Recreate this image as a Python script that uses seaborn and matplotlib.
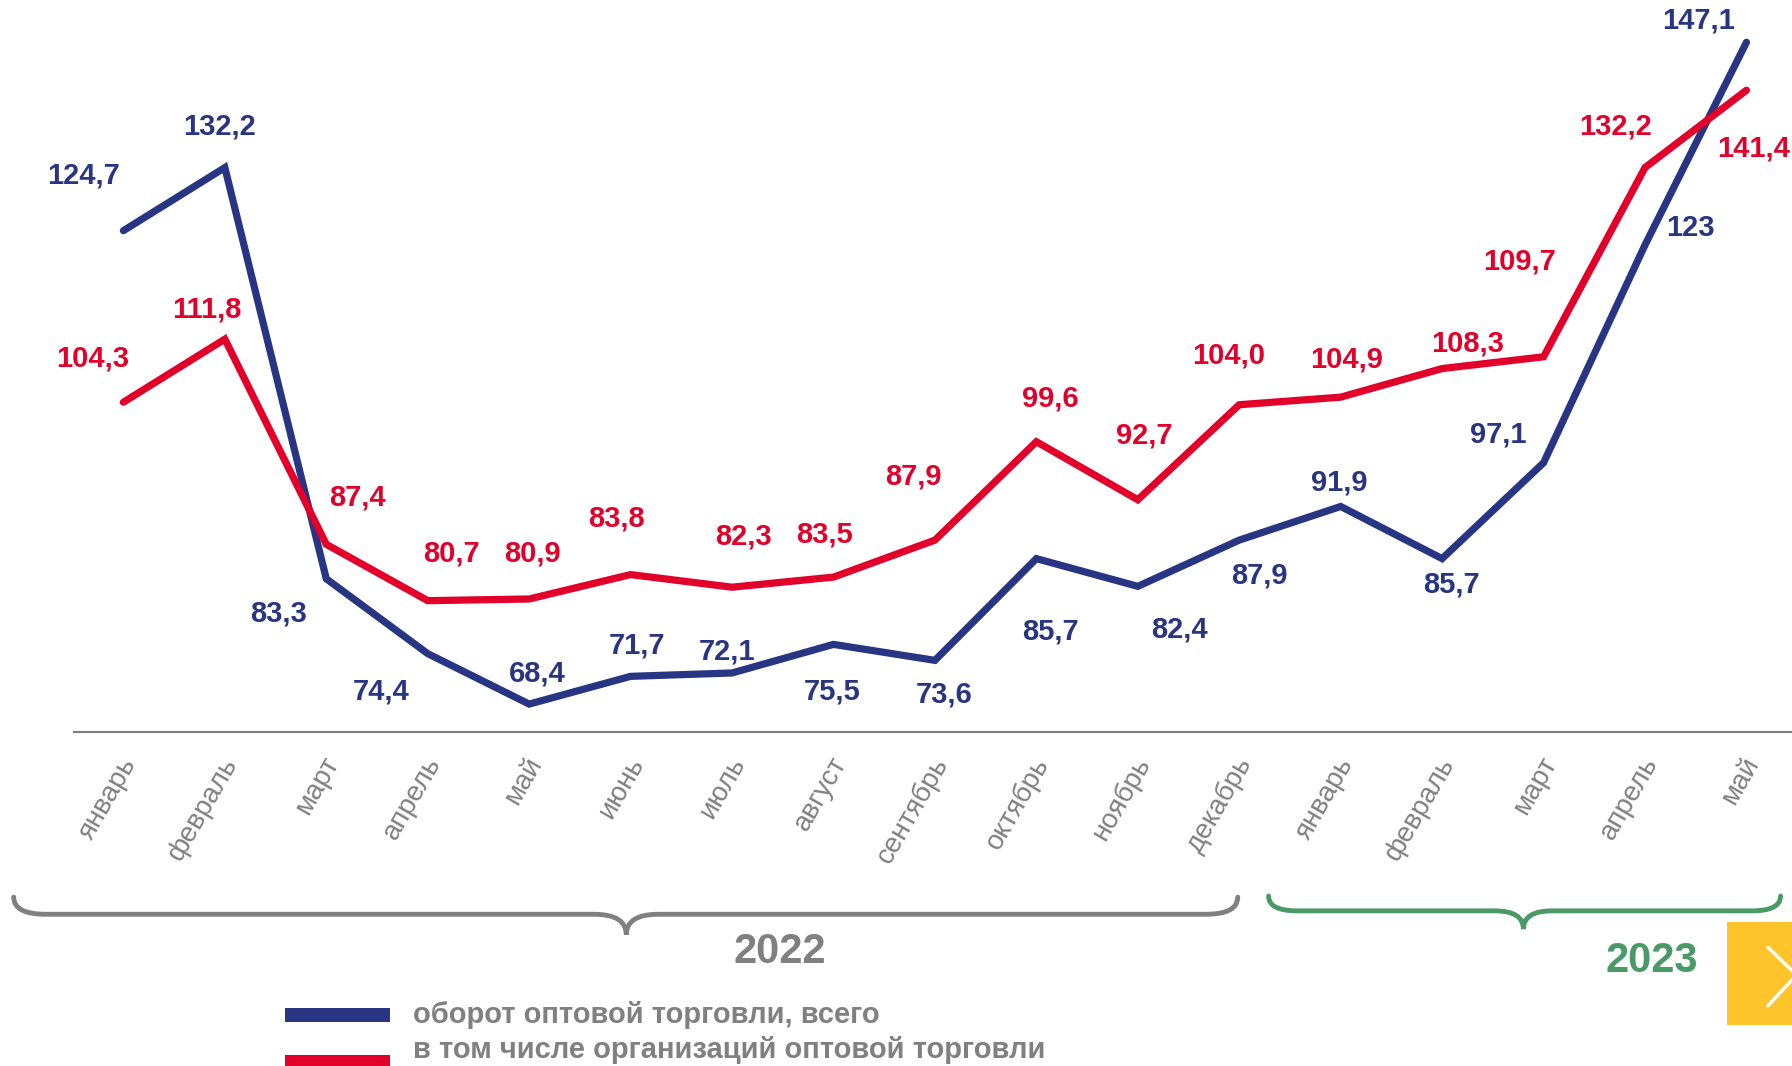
import pandas as pd
import seaborn as sns
import matplotlib.pyplot as plt
import matplotlib.transforms as mtransforms
from matplotlib.path import Path
from matplotlib.patches import PathPatch, Rectangle
from matplotlib.lines import Line2D

sns.set_style("white")
plt.rcParams['font.family'] = ['Liberation Sans', 'DejaVu Sans']

# data
months = ["январь", "февраль", "март", "апрель", "май", "июнь", "июль", "август",
          "сентябрь", "октябрь", "ноябрь", "декабрь",
          "январь", "февраль", "март", "апрель", "май"]
total = [124.7, 132.2, 83.3, 74.4, 68.4, 71.7, 72.1, 75.5, 73.6, 85.7, 82.4, 87.9,
         91.9, 85.7, 97.1, 123.0, 147.1]
orgs = [104.3, 111.8, 87.4, 80.7, 80.9, 83.8, 82.3, 83.5, 87.9, 99.6, 92.7, 104.0,
        104.9, 108.3, 109.7, 132.2, 141.4]
total_text = ["124,7", "132,2", "83,3", "74,4", "68,4", "71,7", "72,1", "75,5", "73,6",
              "85,7", "82,4", "87,9", "91,9", "85,7", "97,1", "123", "147,1"]
orgs_text = ["104,3", "111,8", "87,4", "80,7", "80,9", "83,8", "82,3", "83,5", "87,9",
             "99,6", "92,7", "104,0", "104,9", "108,3", "109,7", "132,2", "141,4"]
series_names = ["оборот оптовой торговли, всего",
                "в том числе организаций оптовой торговли"]

# label offsets in reference-screen px (dx, dy down)
total_off = [(-35, -48), (-5, -36), (-42, 30), (-41, 33), (7, -27), (6, -27), (-4, -19),
             (-1, 41), (8, 30), (12, 64), (36, 38), (18, 31), (-1, -21), (8, 23),
             (-40, -25), (40, -15), (-42, -19)]
orgs_off = [(-27, -38), (-16, -26), (27, -41), (21, -41), (3, -40), (-12, -49), (10, -44),
            (-8, -37), (-19, -56), (12, -38), (6, -56), (-9, -43), (5, -33), (22, -22),
            (-21, -83), (-26, -36), (6, 51)]

BLUE = "#283583"
RED = "#E2002B"
GRAY = "#808080"
GREEN = "#4A9A68"

W, H = 1792, 1066
S = W / 1568.0

df = pd.DataFrame({"x": range(len(months)), "total": total, "orgs": orgs})

fig = plt.figure(figsize=(W / 100, H / 100), dpi=100)
ax = fig.add_axes([0, 1 - 731.5 / H, 1, 731.5 / H])

sns.lineplot(data=df, x="x", y="total", ax=ax, color=BLUE, linewidth=5.2,
             solid_capstyle="round", solid_joinstyle="miter")
sns.lineplot(data=df, x="x", y="orgs", ax=ax, color=RED, linewidth=5.2,
             solid_capstyle="round", solid_joinstyle="miter")

for vals, texts, offs, col in [(total, total_text, total_off, BLUE),
                                (orgs, orgs_text, orgs_off, RED)]:
    for i, (v, t, (dx, dy)) in enumerate(zip(vals, texts, offs)):
        ax.annotate(t, (i, v), xytext=(dx * S, -dy * S), textcoords="offset pixels",
                    ha="center", va="center", color=col, fontsize=21,
                    fontweight="bold", annotation_clip=False)

ax.set_xlim(-1.2165, 16.449)
ax.set_ylim(65.14, 152.13)
ax.set_xlabel("")
ax.set_ylabel("")
ax.set_yticks([])
ax.set_xticks(range(len(months)))
ax.set_xticklabels(months, rotation=60, ha="right", va="center",
                   rotation_mode="anchor", color=GRAY, fontsize=20)
ax.tick_params(axis="x", length=0, pad=20)
shift = mtransforms.ScaledTranslation(5 / 72, 0, fig.dpi_scale_trans)
for lab in ax.get_xticklabels():
    lab.set_transform(lab.get_transform() + shift)
for side in ["top", "left", "right"]:
    ax.spines[side].set_visible(False)
ax.spines["bottom"].set_color(GRAY)
ax.spines["bottom"].set_linewidth(1.6)
ax.spines["bottom"].set_bounds(-0.487, 16.449)


def fxy(x, y):
    return x * S / W, 1 - y * S / H


def brace(x0, x1, xm, ytop, ybot, ytip, r, color):
    pts = [(x0, ytop), (x0, ybot), (x0 + r, ybot), (xm - r, ybot), (xm, ybot), (xm, ytip),
           (xm, ybot), (xm + r, ybot), (x1 - r, ybot), (x1, ybot), (x1, ytop)]
    codes = [Path.MOVETO, Path.CURVE3, Path.CURVE3, Path.LINETO, Path.CURVE3, Path.CURVE3,
             Path.CURVE3, Path.CURVE3, Path.LINETO, Path.CURVE3, Path.CURVE3]
    p = Path([fxy(*q) for q in pts], codes)
    fig.add_artist(PathPatch(p, fill=False, edgecolor=color, linewidth=3.5,
                             capstyle="round", transform=fig.transFigure))


brace(12, 1083, 548, 785, 800, 818, 28, GRAY)
brace(1110, 1558, 1333, 784, 797, 813, 25, GREEN)
fig.text(*fxy(682, 833), "2022", color=GRAY, fontsize=30, fontweight="bold",
         ha="center", va="center")
fig.text(*fxy(1445, 841), "2023", color=GREEN, fontsize=30, fontweight="bold",
         ha="center", va="center")

# yellow next button
bx, by = fxy(1511, 897)
fig.add_artist(Rectangle((bx, by), 1 - bx, (897 - 807) * S / H, facecolor="#FFC32B",
                         edgecolor="none", transform=fig.transFigure))
cx = [fxy(1547, 829), fxy(1572, 853), fxy(1547, 880)]
fig.add_artist(Line2D([c[0] for c in cx], [c[1] for c in cx], color="white",
                      linewidth=2.5, solid_capstyle="round", transform=fig.transFigure))

# legend
for name, col, yc, yt in [(series_names[0], BLUE, 888, 888), (series_names[1], RED, 929, 919)]:
    lx, ly = fxy(249, yc + 6)
    fig.add_artist(Rectangle((lx, ly), (341 - 249) * S / W, 12 * S / H, facecolor=col,
                             edgecolor="none", transform=fig.transFigure))
    fig.text(*fxy(361, yt), name, color=GRAY, fontsize=21, fontweight="bold",
             ha="left", va="center")

fig.savefig("out.png", dpi=100)
